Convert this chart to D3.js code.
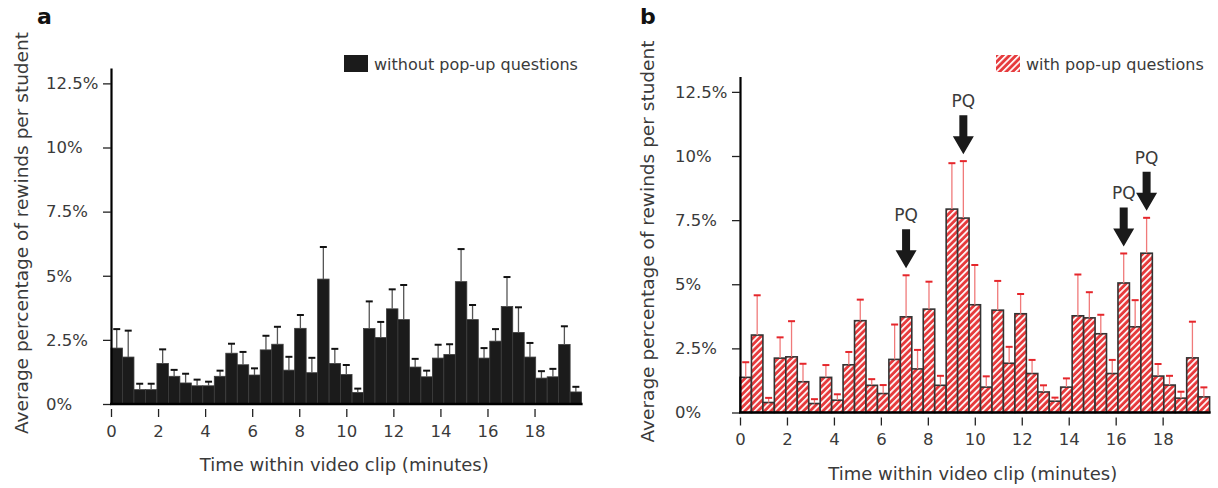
<!DOCTYPE html>
<html lang="en">
<head>
<meta charset="UTF-8">
<title>Rewinds per student</title>
<script src="https://d3js.org/d3.v7.min.js"></script>
<style>
  body { margin: 0; background: #fff; }
  svg text { font-family: "DejaVu Sans", sans-serif; fill: #3a3a3a; }
</style>
</head>
<body>
<svg width="1218" height="488"></svg>
<script>
// mean % of rewinds per ~30 s bin and the standard error above it
const meanA = [2.18,1.83,0.56,0.56,1.58,1.08,0.82,0.71,0.71,1.08,1.98,1.53,1.13,2.11,2.33,1.32,2.95,1.22,4.87,1.58,
               1.15,0.45,2.94,2.59,3.71,3.29,1.44,1.06,1.79,1.93,4.77,3.29,1.79,2.45,3.80,2.79,1.83,1.01,1.06,2.32,0.47];
const errA  = [0.74,1.03,0.23,0.23,0.55,0.25,0.36,0.24,0.16,0.22,0.37,0.50,0.26,0.55,0.68,0.52,0.52,0.58,1.25,0.57,
               0.37,0.15,1.06,0.61,0.76,1.35,0.32,0.24,0.52,0.40,1.27,0.57,0.39,0.47,1.15,0.98,0.55,0.27,0.31,0.71,0.20];
const meanB = [1.37,3.02,0.39,2.12,2.17,1.20,0.35,1.37,0.48,1.86,3.58,1.06,0.74,2.07,3.73,1.70,4.03,1.06,7.93,7.58,
               4.20,0.99,3.99,1.92,3.85,1.52,0.80,0.44,0.99,3.77,3.69,3.07,1.52,5.05,3.34,6.21,1.42,1.07,0.56,2.13,0.61];
const errB  = [0.59,1.55,0.18,0.81,1.39,0.70,0.17,0.48,0.23,0.50,0.82,0.24,0.33,1.36,1.62,0.74,1.07,0.37,1.79,2.22,
               1.55,0.42,1.14,0.64,0.77,0.53,0.26,0.14,0.34,1.61,1.00,0.74,0.53,1.15,1.04,1.38,0.47,0.36,0.25,1.41,0.37];
// bins where a pop-up question appeared
const pqBins = [14, 19, 33, 35];

const xTicks = [0, 2, 4, 6, 8, 10, 12, 14, 16, 18];
const yTicks = [0, 2.5, 5, 7.5, 10, 12.5];
const yTickLabels = ["0%", "2.5%", "5%", "7.5%", "10%", "12.5%"];

const svg = d3.select("svg");

// hatch for the "with pop-up questions" bars
const defs = svg.append("defs");
const hatch = defs.append("pattern")
    .attr("id", "hatch")
    .attr("patternUnits", "userSpaceOnUse")
    .attr("width", 4.6).attr("height", 4.6)
    .attr("patternTransform", "rotate(45)");
hatch.append("rect").attr("width", 4.6).attr("height", 4.6).attr("fill", "#e63a3c");
hatch.append("rect").attr("x", 0).attr("width", 1.7).attr("height", 4.6).attr("fill", "#fff");

function panel(cfg) {
    const g = svg.append("g");
    const x = d3.scaleLinear().domain([0, 20]).range([cfg.left, cfg.right]);
    const y = d3.scaleLinear().domain([0, 13.1]).range([cfg.bottom, cfg.bottom - 13.1 * 25.65]);
    const band = d3.scaleBand().domain(d3.range(cfg.means.length)).range([x(0), x(20)]);

    // bars
    g.selectAll("rect.bar").data(cfg.means).join("rect")
        .attr("class", "bar")
        .attr("x", (d, i) => band(i))
        .attr("width", band.bandwidth())
        .attr("y", d => y(d))
        .attr("height", d => y(0) - y(d))
        .attr("fill", cfg.fill)
        .attr("stroke", cfg.stroke)
        .attr("stroke-width", cfg.strokeWidth);

    // error bars
    const eb = g.selectAll("g.err").data(cfg.means).join("g").attr("class", "err");
    eb.append("line")
        .attr("x1", (d, i) => band(i) + band.bandwidth() / 2)
        .attr("x2", (d, i) => band(i) + band.bandwidth() / 2)
        .attr("y1", d => y(d))
        .attr("y2", (d, i) => y(d + cfg.errs[i]))
        .attr("stroke", cfg.stemColor).attr("stroke-width", 1.3);
    eb.append("line")
        .attr("x1", (d, i) => band(i) + band.bandwidth() / 2 - 3.5)
        .attr("x2", (d, i) => band(i) + band.bandwidth() / 2 + 3.5)
        .attr("y1", (d, i) => y(d + cfg.errs[i]))
        .attr("y2", (d, i) => y(d + cfg.errs[i]))
        .attr("stroke", cfg.capColor).attr("stroke-width", 2);

    // y axis
    const yAxis = g.append("g")
        .attr("transform", `translate(${x(0)},0)`)
        .call(d3.axisLeft(y).tickValues(yTicks).tickFormat((d, i) => yTickLabels[i])
              .tickSize(8).tickSizeOuter(0));
    yAxis.select(".domain").attr("stroke", "#000").attr("stroke-width", 2.2);
    yAxis.selectAll(".tick line").attr("stroke", "#222").attr("stroke-width", 1.3);
    yAxis.selectAll(".tick text")
        .attr("x", -65).attr("text-anchor", "start")
        .attr("font-size", 16.5).attr("font-family", null);

    // x axis (ticks hang below the baseline)
    const xAxis = g.append("g")
        .attr("transform", `translate(0,${y(0) + 5})`)
        .call(d3.axisBottom(x).tickValues(xTicks).tickSize(8).tickPadding(8));
    xAxis.select(".domain").remove();
    xAxis.selectAll(".tick line").attr("stroke", "#222").attr("stroke-width", 1.3);
    xAxis.selectAll(".tick text").attr("font-size", 16.5).attr("font-family", null);

    g.append("line")
        .attr("x1", x(0) - 1).attr("x2", x(20) + 1)
        .attr("y1", y(0)).attr("y2", y(0))
        .attr("stroke", "#000").attr("stroke-width", 2.7);

    // titles
    g.append("text")
        .attr("x", (x(0) + x(20)) / 2 - 2).attr("y", y(0) + 67)
        .attr("text-anchor", "middle").attr("font-size", 18)
        .text("Time within video clip (minutes)");
    g.append("text")
        .attr("transform", `translate(${cfg.ytitleX},${y(0) - 171}) rotate(-90)`)
        .attr("text-anchor", "middle").attr("font-size", 18.5)
        .text("Average percentage of rewinds per student");
    g.append("text")
        .attr("x", cfg.letterX).attr("y", 24)
        .attr("font-family", "Liberation Sans, Arial, sans-serif")
        .attr("font-weight", "bold").attr("font-size", 22)
        .style("fill", "#111")
        .text(cfg.letter);

    // legend
    g.append("rect")
        .attr("x", cfg.legendX).attr("y", 55).attr("width", 24).attr("height", 17)
        .attr("fill", cfg.fill);
    g.append("text")
        .attr("x", cfg.legendX + 30).attr("y", 70).attr("font-size", 16)
        .text(cfg.legend);

    return { x, y, band, g };
}

panel({
    left: 111, right: 581.6, bottom: 404,
    means: meanA, errs: errA,
    fill: "#1b1b1b", stroke: "#3c3c3c", strokeWidth: 0.8,
    stemColor: "#555", capColor: "#111",
    ytitleX: 28, letterX: 37, letter: "a",
    legendX: 344, legend: "without pop-up questions"
});

const pb = panel({
    left: 740, right: 1209.6, bottom: 412.5,
    means: meanB, errs: errB,
    fill: "url(#hatch)", stroke: "#333", strokeWidth: 1.6,
    stemColor: "#f07a7a", capColor: "#e5262b",
    ytitleX: 654, letterX: 640, letter: "b",
    legendX: 996, legend: "with pop-up questions"
});

// pop-up question arrows
pqBins.forEach(i => {
    const cx = pb.band(i) + pb.band.bandwidth() / 2;
    const tip = pb.y(meanB[i] + errB[i]) - 7;
    const top = tip - 39;
    pb.g.append("path")
        .attr("d", `M${cx - 4},${top} H${cx + 4} V${tip - 18} H${cx + 10.5} L${cx},${tip} L${cx - 10.5},${tip - 18} H${cx - 4} Z`)
        .attr("fill", "#1a1a1a");
    pb.g.append("text")
        .attr("x", cx).attr("y", top - 8)
        .attr("text-anchor", "middle").attr("font-size", 17)
        .text("PQ");
});
</script>
</body>
</html>
